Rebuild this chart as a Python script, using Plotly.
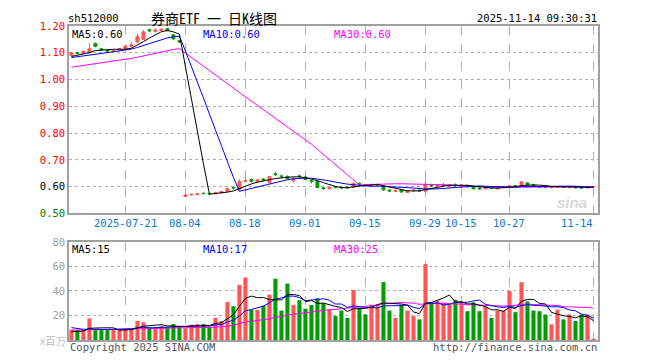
import plotly.graph_objects as go

# ---------------- data ----------------
dates = [
    "2025-07-08", "2025-07-09", "2025-07-10", "2025-07-11", "2025-07-14", "2025-07-15", "2025-07-16",
    "2025-07-17", "2025-07-18", "2025-07-21", "2025-07-22", "2025-07-23", "2025-07-24", "2025-07-25",
    "2025-07-28", "2025-07-29", "2025-07-30", "2025-07-31", "2025-08-01", "2025-08-04", "2025-08-05",
    "2025-08-06", "2025-08-07", "2025-08-08", "2025-08-11", "2025-08-12", "2025-08-13", "2025-08-14",
    "2025-08-15", "2025-08-18", "2025-08-19", "2025-08-20", "2025-08-21", "2025-08-22", "2025-08-25",
    "2025-08-26", "2025-08-27", "2025-08-28", "2025-08-29", "2025-09-01", "2025-09-02", "2025-09-03",
    "2025-09-04", "2025-09-05", "2025-09-08", "2025-09-09", "2025-09-10", "2025-09-11", "2025-09-12",
    "2025-09-15", "2025-09-16", "2025-09-17", "2025-09-18", "2025-09-19", "2025-09-22", "2025-09-23",
    "2025-09-24", "2025-09-25", "2025-09-26", "2025-09-29", "2025-09-30", "2025-10-09", "2025-10-10",
    "2025-10-13", "2025-10-14", "2025-10-15", "2025-10-16", "2025-10-17", "2025-10-20", "2025-10-21",
    "2025-10-22", "2025-10-23", "2025-10-24", "2025-10-27", "2025-10-28", "2025-10-29", "2025-10-30",
    "2025-10-31", "2025-11-03", "2025-11-04", "2025-11-05", "2025-11-06", "2025-11-07", "2025-11-10",
    "2025-11-11", "2025-11-12", "2025-11-13", "2025-11-14",
]

opens = [
    1.090, 1.100, 1.097, 1.100, 1.135, 1.115, 1.110, 1.106, 1.110, 1.115, 1.123, 1.140, 1.150, 1.186,
    1.180, 1.183, 1.190, 1.167, 1.145,
    0.563, 0.569, 0.571, 0.575, 0.575, 0.573, 0.577, 0.581, 0.597, 0.590, 0.620, 0.627, 0.618, 0.628,
    0.615, 0.648, 0.640, 0.638, 0.622, 0.640, 0.636, 0.622, 0.620, 0.596, 0.592, 0.599, 0.598, 0.598,
    0.597, 0.612, 0.608, 0.604, 0.605, 0.602, 0.587, 0.582, 0.588, 0.578, 0.584, 0.587, 0.583, 0.606,
    0.603, 0.604, 0.600, 0.607, 0.602, 0.605, 0.601, 0.595, 0.592, 0.597, 0.592, 0.597, 0.600, 0.604,
    0.605, 0.614, 0.607, 0.600, 0.599, 0.596, 0.597, 0.600, 0.597, 0.600, 0.597, 0.595, 0.599,
]
highs = [
    1.102, 1.102, 1.108, 1.135, 1.138, 1.117, 1.112, 1.112, 1.118, 1.128, 1.140, 1.172, 1.185, 1.190,
    1.192, 1.193, 1.192, 1.170, 1.148,
    0.571, 0.573, 0.575, 0.579, 0.577, 0.579, 0.583, 0.595, 0.600, 0.628, 0.636, 0.630, 0.628, 0.632,
    0.640, 0.655, 0.645, 0.642, 0.635, 0.645, 0.640, 0.626, 0.622, 0.598, 0.600, 0.602, 0.600, 0.600,
    0.616, 0.615, 0.610, 0.612, 0.611, 0.605, 0.590, 0.588, 0.590, 0.587, 0.590, 0.589, 0.627, 0.611,
    0.610, 0.614, 0.608, 0.612, 0.609, 0.607, 0.603, 0.597, 0.598, 0.599, 0.600, 0.602, 0.606, 0.606,
    0.620, 0.616, 0.609, 0.602, 0.601, 0.601, 0.603, 0.602, 0.603, 0.601, 0.599, 0.602, 0.601,
]
lows = [
    1.088, 1.095, 1.095, 1.098, 1.120, 1.108, 1.103, 1.104, 1.108, 1.113, 1.120, 1.138, 1.148, 1.178,
    1.176, 1.180, 1.180, 1.148, 1.136,
    0.561, 0.567, 0.569, 0.572, 0.570, 0.572, 0.575, 0.579, 0.589, 0.588, 0.615, 0.615, 0.615, 0.620,
    0.612, 0.640, 0.632, 0.628, 0.615, 0.632, 0.624, 0.612, 0.594, 0.588, 0.590, 0.594, 0.592, 0.593,
    0.595, 0.606, 0.602, 0.603, 0.600, 0.584, 0.580, 0.580, 0.578, 0.576, 0.582, 0.581, 0.582, 0.598,
    0.600, 0.601, 0.598, 0.600, 0.600, 0.598, 0.590, 0.590, 0.590, 0.592, 0.588, 0.595, 0.598, 0.600,
    0.604, 0.605, 0.601, 0.594, 0.594, 0.594, 0.596, 0.596, 0.596, 0.594, 0.593, 0.594, 0.598,
]
closes = [
    1.100, 1.098, 1.105, 1.115, 1.124, 1.111, 1.106, 1.109, 1.115, 1.125, 1.130, 1.160, 1.178, 1.182,
    1.185, 1.188, 1.183, 1.152, 1.141,
    0.569, 0.571, 0.573, 0.574, 0.573, 0.577, 0.581, 0.593, 0.595, 0.620, 0.623, 0.620, 0.625, 0.624,
    0.638, 0.645, 0.638, 0.630, 0.632, 0.638, 0.627, 0.619, 0.597, 0.593, 0.597, 0.598, 0.596, 0.596,
    0.612, 0.610, 0.606, 0.607, 0.606, 0.588, 0.584, 0.585, 0.580, 0.585, 0.587, 0.584, 0.609, 0.603,
    0.606, 0.607, 0.605, 0.604, 0.606, 0.602, 0.592, 0.592, 0.596, 0.595, 0.597, 0.600, 0.603, 0.602,
    0.618, 0.607, 0.602, 0.598, 0.597, 0.598, 0.600, 0.598, 0.600, 0.596, 0.595, 0.599, 0.600,
]
volumes = [  # 百万
    8.5, 8, 8, 17.6, 8, 8, 8, 8, 8, 8.5, 9.5, 15.5, 14.5, 10.5, 10.5, 11.5, 10.5, 13, 10.5,
    9.5, 12.5, 13, 13, 11, 18, 15.5, 31, 27.5, 45, 51, 24.5, 24.5, 28, 37, 50, 24, 46, 28.5, 32.5,
    25.5, 28.5, 34, 30, 25, 19.5, 24, 18, 40.8, 25.3, 20.8, 28.8, 28.8, 47.2, 24, 18, 28.8, 24, 19.5,
    16.8, 61.9, 30.4, 32, 30.4, 28.8, 32.8, 31.5, 23.5, 30.7, 23.5, 27.2, 18, 24, 24, 40, 22.7, 47.2,
    31.5, 24, 23.5, 20.8, 12.8, 24.8, 16.8, 20.8, 15.5, 20.8, 20.8, 1,
]
# closes / volumes of the sessions before the window (not drawn; feed the moving averages)
prior_closes = [
    1.005, 1.010, 1.008, 1.012, 1.015, 1.018, 1.020, 1.016, 1.022, 1.025, 1.028, 1.030, 1.027, 1.032,
    1.035, 1.038, 1.040, 1.045, 1.065, 1.075, 1.070, 1.078, 1.080, 1.082, 1.080, 1.078, 1.082, 1.085,
    1.085,
]
prior_volumes = [
    6, 7, 8, 6, 7, 9, 7, 6, 8, 7, 6, 7, 8, 7, 6, 7, 8, 6, 7, 6, 12, 18, 15, 11.5, 11, 7, 6, 6.5, 5.5,
]

tick_dates = ["2025-07-21", "2025-08-04", "2025-08-18", "2025-09-01", "2025-09-15",
              "2025-09-29", "2025-10-15", "2025-10-27", "2025-11-14"]
tick_labels = ["2025-07-21", "08-04", "08-18", "09-01", "09-15", "09-29", "10-15", "10-27", "11-14"]
price_ticks = [1.20, 1.10, 1.00, 0.90, 0.80, 0.70, 0.60, 0.50]
vol_ticks = [20, 40, 60, 80]

# ---------------- helpers ----------------
RED = "#ff5555"
GREEN = "#009c00"
GRID = "#b0b0b0"
FRAME = "#a0a0a0"
MONO = "DejaVu Sans Mono"
CJK = "Noto Sans Mono CJK SC, Noto Sans CJK SC"


def moving_avg(prior, values, n):
    full = list(prior) + list(values)
    out = []
    for k in range(len(prior), len(full)):
        window = full[k - n + 1:k + 1]
        out.append(sum(window) / len(window))
    return out


ma_p = {n: moving_avg(prior_closes, closes, n) for n in (5, 10, 30)}
ma_v = {n: moving_avg(prior_volumes, volumes, n) for n in (5, 10, 30)}
vol_colors = [RED if c >= o else GREEN for o, c in zip(opens, closes)]

# page offset of the figure (browser body margin)
OX, OY = 8, 8
FIG_W, FIG_H = 660 - OX, 360 - OY
# plot area in page pixels
L, R, T, B = 69, 598, 20, 340
W, H = R - L, B - T


def px(x):
    return (x - L) / W


def py(y):
    return (B - y) / H


fig = go.Figure()

fig.add_trace(go.Candlestick(
    x=dates, open=opens, high=highs, low=lows, close=closes,
    increasing=dict(line=dict(color=RED, width=1), fillcolor=RED),
    decreasing=dict(line=dict(color=GREEN, width=1), fillcolor=GREEN),
    whiskerwidth=0, xaxis="x", yaxis="y", showlegend=False, hoverinfo="skip",
))
for n, col in ((30, "#ff00ff"), (10, "#0000ff"), (5, "#000000")):
    fig.add_trace(go.Scatter(x=dates, y=ma_p[n], mode="lines", line=dict(color=col, width=1),
                             xaxis="x", yaxis="y", showlegend=False, hoverinfo="skip"))

fig.add_trace(go.Bar(x=dates, y=volumes, marker=dict(color=vol_colors, line=dict(width=0)),
                     width=0.68, xaxis="x2", yaxis="y2", showlegend=False, hoverinfo="skip"))
for n, col in ((30, "#ff00ff"), (10, "#0000ff"), (5, "#000000")):
    fig.add_trace(go.Scatter(x=dates, y=ma_v[n], mode="lines", line=dict(color=col, width=1),
                             xaxis="x2", yaxis="y2", showlegend=False, hoverinfo="skip"))


def price_color(v):
    if v > 0.605:
        return "#ff0000"
    if v < 0.595:
        return "#008000"
    return "#000000"


price_text = [f'<span style="color:{price_color(v)}">{v:.2f}</span>' for v in price_ticks]

xcommon = dict(type="category", categoryorder="array", categoryarray=dates,
               range=[-0.4, 87.75], tickvals=tick_dates, showticklabels=False,
               showgrid=True, gridcolor=GRID, griddash="dash", gridwidth=1,
               showline=True, mirror=True, linecolor=FRAME, linewidth=1.5, ticks="",
               zeroline=False, fixedrange=True)

fig.update_layout(
    width=FIG_W, height=FIG_H,
    margin=dict(l=L - OX, r=660 - R, t=T - OY, b=360 - B),
    paper_bgcolor="white", plot_bgcolor="white",
    boxgap=0.3,
    font=dict(family=MONO, size=10.5, color="#000"),
    xaxis=dict(domain=[0, 1], anchor="y", **xcommon),
    xaxis2=dict(domain=[0, 1], anchor="y2", matches="x", **xcommon),
    yaxis=dict(domain=[py(211), 1], range=[0.5, 1.2], tickvals=price_ticks, ticktext=price_text,
               showgrid=True, gridcolor=GRID, griddash="dot", showline=True, mirror=True,
               linecolor=FRAME, linewidth=1.5, ticks="", zeroline=False, fixedrange=True,
               tickfont=dict(family=MONO, size=10.5)),
    yaxis2=dict(domain=[0, py(240)], range=[0, 80], tickvals=vol_ticks,
                ticktext=[str(v) for v in vol_ticks],
                showgrid=True, gridcolor=GRID, griddash="dot", showline=True, mirror=True,
                linecolor=FRAME, linewidth=1.5, ticks="", zeroline=False, fixedrange=True,
                tickfont=dict(family=MONO, size=10.5, color="#a0a0a0")),
)
fig.update_xaxes(rangeslider_visible=False)

ann = []


def text(x, y, s, color="#000", size=10.5, anchor="left", family=MONO):
    ann.append(dict(xref="paper", yref="paper", x=px(x), y=py(y), text=s, showarrow=False,
                    xanchor=anchor, yanchor="middle", borderpad=0,
                    font=dict(family=family, size=size, color=color)))


text(67, 12, "sh512000")
text(150, 12, "券商ETF 一 日K线图", size=14, family=CJK)
text(598, 12, "2025-11-14 09:30:31", anchor="right")

text(71, 28, f"MA5:{ma_p[5][-1]:.2f}")
text(202, 28, f"MA10:{ma_p[10][-1]:.2f}", color="#0000ff")
text(333, 28, f"MA30:{ma_p[30][-1]:.2f}", color="#ff00ff")

text(71, 247, f"MA5:{int(ma_v[5][-1])}")
text(202, 247, f"MA10:{int(ma_v[10][-1])}", color="#0000ff")
text(333, 247, f"MA30:{int(ma_v[30][-1])}", color="#ff00ff")

for d, lab in zip(tick_dates, tick_labels):
    i = dates.index(d)
    xpix = L + (i + 0.4) * W / 88.15
    if d == tick_dates[-1]:
        text(594, 221, lab, color="#0a78cc", anchor="right")
    else:
        text(xpix, 221, lab, color="#0a78cc", anchor="center")

text(67, 340, "x百万", color="#c0c0c0", anchor="right", family="Noto Sans CJK SC", size=10.5)
text(69, 347, "Copyright 2025 SINA.COM", color="#555555")
text(598, 347, "http://finance.sina.com.cn", color="#555555", anchor="right")
text(572, 200, "<b><i>sina</i></b>", color="#d8d8d8", size=15, anchor="center", family="Liberation Sans")

fig.update_layout(annotations=ann)

fig.write_html("out.html")
